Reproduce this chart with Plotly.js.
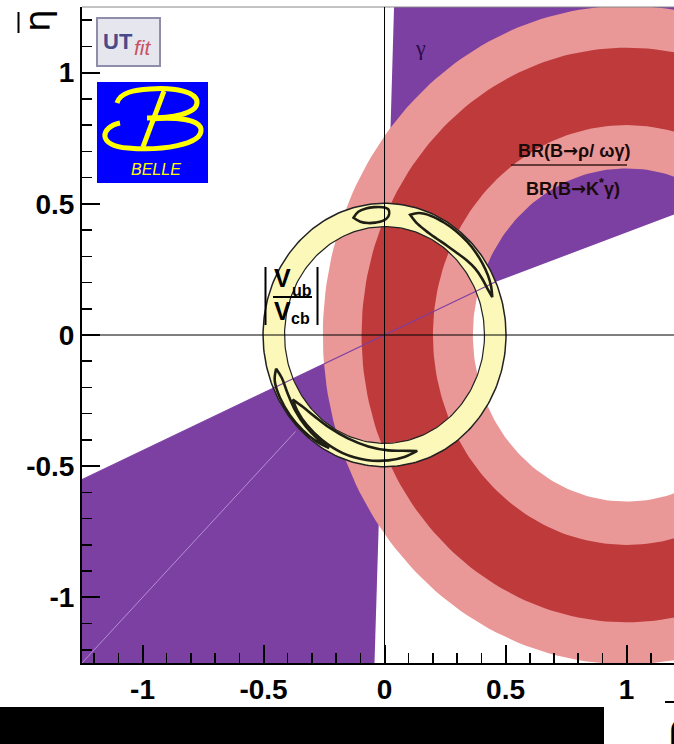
<!DOCTYPE html>
<html><head><meta charset="utf-8">
<script src="https://cdn.plot.ly/plotly-3.0.1.min.js"></script>
<style>html,body{margin:0;padding:0;background:#fff;overflow:hidden}#chart{width:674px;height:744px}</style>
</head><body><div id="chart"></div>
<script>
// ---------------- values ----------------
const xRange = [-1.25, 1.196];
const yRange = [-1.25, 1.25];
const xTickVals = [-1, -0.5, 0, 0.5, 1];
const xTickText = ['-1', '-0.5', '0', '0.5', '1'];
const yTickVals = [-1, -0.5, 0, 0.5, 1];
const yTickText = ['-1', '-0.5', '0', '0.5', '1'];

// gamma constraint (deg from the rho axis); upper region and its mirror through the origin
const gammaHighEdgeDeg = [88.2, 268.1];        // near-vertical edges (upper, lower region)
const gammaLowEdgeDeg = [23.8, 19.8];          // lower edge of upper region: near origin, far out
const gammaLowEdgeR = [0.5, 4];                // radii where those angles are taken
const gammaMirrorEdgeDeg = 203.8;              // upper edge of lower-left region
// BR(B->rho/omega gamma)/BR(B->K* gamma): bands centred on (1,0)
const brCenter = [1.0, 0.0];
const brWideRadii = [0.635, 1.255];   // outer band (pink)
const brCoreRadii = [0.800, 1.095];   // inner band (dark red)
// |Vub/Vcb|: ring centred on the origin
const vubCenter = [0.0, 0.0];
const vubRadii = [0.413, 0.502];
// faint line in the lower-left region (angle deg, radii)
const faintAngleDeg = 225;
const faintRadii = [0.52, 1.8];

// combined-fit contours (polar: angle deg, outer radius, inner radius)
const blobA_theta = [106, 103, 99, 95, 91, 88];
const blobA_rOut  = [0.465, 0.482, 0.488, 0.489, 0.487, 0.478];
const blobA_rIn   = [0.465, 0.443, 0.432, 0.430, 0.435, 0.452];

const blobB_theta = [77, 73, 67, 60, 53, 46, 40, 34, 28, 23, 18];
const blobB_rOut  = [0.470, 0.486, 0.493, 0.494, 0.494, 0.493, 0.491, 0.488, 0.484, 0.478, 0.468];
const blobB_rIn   = [0.470, 0.448, 0.433, 0.426, 0.427, 0.433, 0.443, 0.452, 0.457, 0.460, 0.468];

const blobC_theta = [196, 201, 209, 218, 227, 235, 242];
const blobC_rOut  = [0.466, 0.486, 0.494, 0.496, 0.496, 0.494, 0.488];
const blobC_rIn   = [0.466, 0.455, 0.458, 0.468, 0.477, 0.483, 0.488];

const blobD_theta = [213, 219, 227, 237, 249, 261, 272, 280, 287];
const blobD_rOut  = [0.452, 0.462, 0.470, 0.476, 0.482, 0.482, 0.478, 0.472, 0.462];
const blobD_rIn   = [0.452, 0.435, 0.424, 0.420, 0.422, 0.430, 0.440, 0.448, 0.462];

// ---------------- colours ----------------
const cPurple = '#7c3fa2';
const cPink = '#e99797';
const cRed = '#be3a3b';
const cYellow = '#fbf8ba';
const cContour = '#1e1e14';

// ---------------- geometry helpers ----------------
const D2R = Math.PI / 180;
const REACH = 4;
const pol = (r, deg) => [r * Math.cos(deg * D2R), r * Math.sin(deg * D2R)];
function circlePts(c, r, a0, a1, n) {
  const xs = [], ys = [];
  for (let i = 0; i <= n; i++) {
    const a = (a0 + (a1 - a0) * i / n) * D2R;
    xs.push(c[0] + r * Math.cos(a)); ys.push(c[1] + r * Math.sin(a));
  }
  return [xs, ys];
}
function annulus(c, radii, color) {
  const o = circlePts(c, radii[1], 0, 360, 240);
  const i = circlePts(c, radii[0], 360, 0, 240);
  return {x: o[0].concat(i[0]), y: o[1].concat(i[1]), type: 'scatter', mode: 'lines',
          fill: 'toself', fillcolor: color, line: {width: 0, color: color}, hoverinfo: 'skip'};
}
function polygon(pts) {
  return {x: pts.map(p => p[0]), y: pts.map(p => p[1]), type: 'scatter', mode: 'lines', fill: 'toself',
          fillcolor: cPurple, line: {width: 0, color: cPurple}, hoverinfo: 'skip'};
}
function blob(th, ro, ri) {
  const xs = [], ys = [];
  for (let k = 0; k < th.length; k++) { const p = pol(ro[k], th[k]); xs.push(p[0]); ys.push(p[1]); }
  for (let k = th.length - 1; k >= 0; k--) { const p = pol(ri[k], th[k]); xs.push(p[0]); ys.push(p[1]); }
  xs.push(xs[0]); ys.push(ys[0]);
  return {x: xs, y: ys, type: 'scatter', mode: 'lines',
          line: {color: cContour, width: 2.6, shape: 'spline', smoothing: 1}, hoverinfo: 'skip'};
}
function circleLine(c, r, w) {
  const p = circlePts(c, r, 0, 360, 240);
  return {x: p[0], y: p[1], type: 'scatter', mode: 'lines', line: {color: '#222', width: w}, hoverinfo: 'skip'};
}
function ray(angleDeg, r0, r1, color, w) {
  const a = pol(r0, angleDeg), b = pol(r1, angleDeg);
  return {x: [a[0], b[0]], y: [a[1], b[1]], type: 'scatter', mode: 'lines', line: {color: color, width: w}, hoverinfo: 'skip'};
}

const upperGamma = polygon([[0, 0], pol(gammaLowEdgeR[0], gammaLowEdgeDeg[0]), pol(gammaLowEdgeR[1], gammaLowEdgeDeg[1]),
                            pol(REACH, gammaHighEdgeDeg[0]), [0, 0]]);
const lowerGamma = polygon([[0, 0], pol(REACH, gammaMirrorEdgeDeg), pol(REACH, gammaHighEdgeDeg[1]), [0, 0]]);

const traces = [
  upperGamma,
  lowerGamma,
  annulus(brCenter, brWideRadii, cPink),
  annulus(brCenter, brCoreRadii, cRed),
  ray(faintAngleDeg, faintRadii[0], faintRadii[1], 'rgba(200,170,230,0.75)', 1),
  annulus(vubCenter, vubRadii, cYellow),
  ray(gammaLowEdgeDeg[0], -REACH, gammaLowEdgeR[0], cPurple, 1.1),
  circleLine(vubCenter, vubRadii[0], 1.2),
  circleLine(vubCenter, vubRadii[1], 1.5),
  blob(blobA_theta, blobA_rOut, blobA_rIn),
  blob(blobB_theta, blobB_rOut, blobB_rIn),
  blob(blobC_theta, blobC_rOut, blobC_rIn),
  blob(blobD_theta, blobD_rOut, blobD_rIn)
];

// ---------------- layout (pixel -> paper helpers for decorations) ----------------
const W = 674, H = 744, ML = 82, MR = 0, MT = 7, MB = 81;
const PW = W - ML - MR, PH = H - MT - MB;
const PX = px => (px - ML) / PW;
const PY = py => (MT + PH - py) / PH;
const pathPx = s => s.replace(/(-?[\d.]+),(-?[\d.]+)/g, (m, a, b) => PX(+a).toFixed(5) + ',' + PY(+b).toFixed(5));

const tickFont = {family: 'Liberation Sans, Arial, sans-serif', size: 28, color: '#000', weight: 700};
const axisCommon = {
  showline: true, linecolor: '#000', linewidth: 2, mirror: false,
  showgrid: false, zeroline: false, ticks: 'inside', ticklen: 18, tickwidth: 2, tickcolor: '#000',
  tickfont: tickFont, tickmode: 'array',
  minor: {ticks: 'inside', ticklen: 10, tickwidth: 1.5, tickcolor: '#000', dtick: 0.1, tick0: 0, showgrid: false},
  fixedrange: true
};

function ann(px, py, text, size, opts) {
  return Object.assign({xref: 'paper', yref: 'paper', x: PX(px), y: PY(py), text: text, showarrow: false,
    xanchor: 'center', yanchor: 'middle',
    font: {family: 'Liberation Sans, Arial, sans-serif', size: size, color: '#000'}}, opts || {});
}
function pline(x0, y0, x1, y1, color, w) {
  return {type: 'line', xref: 'paper', yref: 'paper', x0: PX(x0), y0: PY(y0), x1: PX(x1), y1: PY(y1),
          line: {color: color, width: w}, layer: 'above'};
}
const arrow = '<span style="font-family:DejaVu Sans">→</span>';

const annotations = [
  ann(37, 21, 'η', 36, {font: {family: 'DejaVu Sans, sans-serif', size: 36, color: '#000'}, textangle: -90}),
  ann(679, 727, 'ρ', 36, {font: {family: 'DejaVu Sans, sans-serif', size: 36, color: '#000'}}),
  ann(420, 47, 'γ', 22, {font: {family: 'Liberation Serif, DejaVu Serif, serif', size: 22, color: '#2b0b45'}}),
  ann(574, 151, '<b>BR(B' + arrow + 'ρ/ ωγ)</b>', 18, {font: {family: 'Liberation Sans, Arial, sans-serif', size: 18, color: '#1a0a0a'}}),
  ann(573, 187, '<b>BR(B' + arrow + 'K<sup>*</sup>γ)</b>', 18, {font: {family: 'Liberation Sans, Arial, sans-serif', size: 18, color: '#1a0a0a'}}),
  ann(282, 278, '<b>V</b>', 25),
  ann(302, 290, '<b>ub</b>', 16),
  ann(282, 311, '<b>V</b>', 25),
  ann(300, 318, '<b>cb</b>', 16),
  ann(118, 41, '<b>UT</b>', 22, {font: {family: 'Liberation Sans, Arial, sans-serif', size: 22, color: '#4a4a8a'}}),
  ann(143, 47, '<i>fit</i>', 21, {font: {family: 'Liberation Sans, Arial, sans-serif', size: 21, color: '#c85262'}}),
  ann(156, 169, '<i>BELLE</i>', 16, {font: {family: 'Liberation Sans, Arial, sans-serif', size: 16, color: '#ffff00'}})
];

const shapes = [
  {type: 'line', xref: 'paper', yref: 'paper', x0: 0, x1: 1, y0: 1, y1: 1, line: {color: '#888', width: 1}, layer: 'above'},
  {type: 'line', xref: 'x', yref: 'paper', x0: 0, x1: 0, y0: 0, y1: 1, line: {color: '#000', width: 1}, layer: 'above'},
  {type: 'line', xref: 'paper', yref: 'y', x0: 0, x1: 1, y0: 0, y1: 0, line: {color: '#000', width: 1}, layer: 'above'},
  pline(511, 165, 627, 165, '#3a1a1a', 1.6),
  pline(273, 297, 312, 297, '#000', 2),
  pline(265.5, 267, 265.5, 325, '#000', 2),
  pline(317.5, 267, 317.5, 325, '#000', 2),
  pline(18.5, 12, 18.5, 33, '#000', 2),
  pline(665, 702, 690, 702, '#000', 2),
  {type: 'rect', xref: 'paper', yref: 'paper', x0: PX(97), x1: PX(160), y0: PY(66), y1: PY(18),
   fillcolor: '#e6e6ef', line: {color: '#8e8eab', width: 2}, layer: 'above'},
  {type: 'rect', xref: 'paper', yref: 'paper', x0: PX(97), x1: PX(208), y0: PY(183), y1: PY(82),
   fillcolor: '#0000ff', line: {width: 0}, layer: 'above'},
  {type: 'path', xref: 'paper', yref: 'paper', layer: 'above', line: {color: '#ffff00', width: 5},
   path: pathPx('M117,103 C120,92 135,90 150,89 C175,87 198,92 197,103 C196,114 172,118 147,118')},
  {type: 'path', xref: 'paper', yref: 'paper', layer: 'above', line: {color: '#ffff00', width: 5},
   path: pathPx('M120,123 C100,127 97,146 128,148 C160,151 203,145 201,129 C199,119 176,117 150,119')},
  {type: 'path', xref: 'paper', yref: 'paper', layer: 'above', line: {color: '#ffff00', width: 5},
   path: pathPx('M164,91 L143,147')},
  {type: 'rect', xref: 'paper', yref: 'paper', x0: PX(0), x1: PX(604), y0: PY(744), y1: PY(707),
   fillcolor: '#000', line: {width: 0}, layer: 'above'}
];

const layout = {
  width: W, height: H,
  margin: {l: ML, r: MR, t: MT, b: MB, pad: 0},
  paper_bgcolor: '#fff', plot_bgcolor: '#fff',
  showlegend: false,
  xaxis: Object.assign({}, axisCommon, {range: xRange, tickvals: xTickVals, ticktext: xTickText}),
  yaxis: Object.assign({}, axisCommon, {range: yRange, tickvals: yTickVals, ticktext: yTickText}),
  annotations: annotations,
  shapes: shapes
};

Plotly.newPlot('chart', traces, layout, {staticPlot: true, displayModeBar: false});
</script>
</body></html>
